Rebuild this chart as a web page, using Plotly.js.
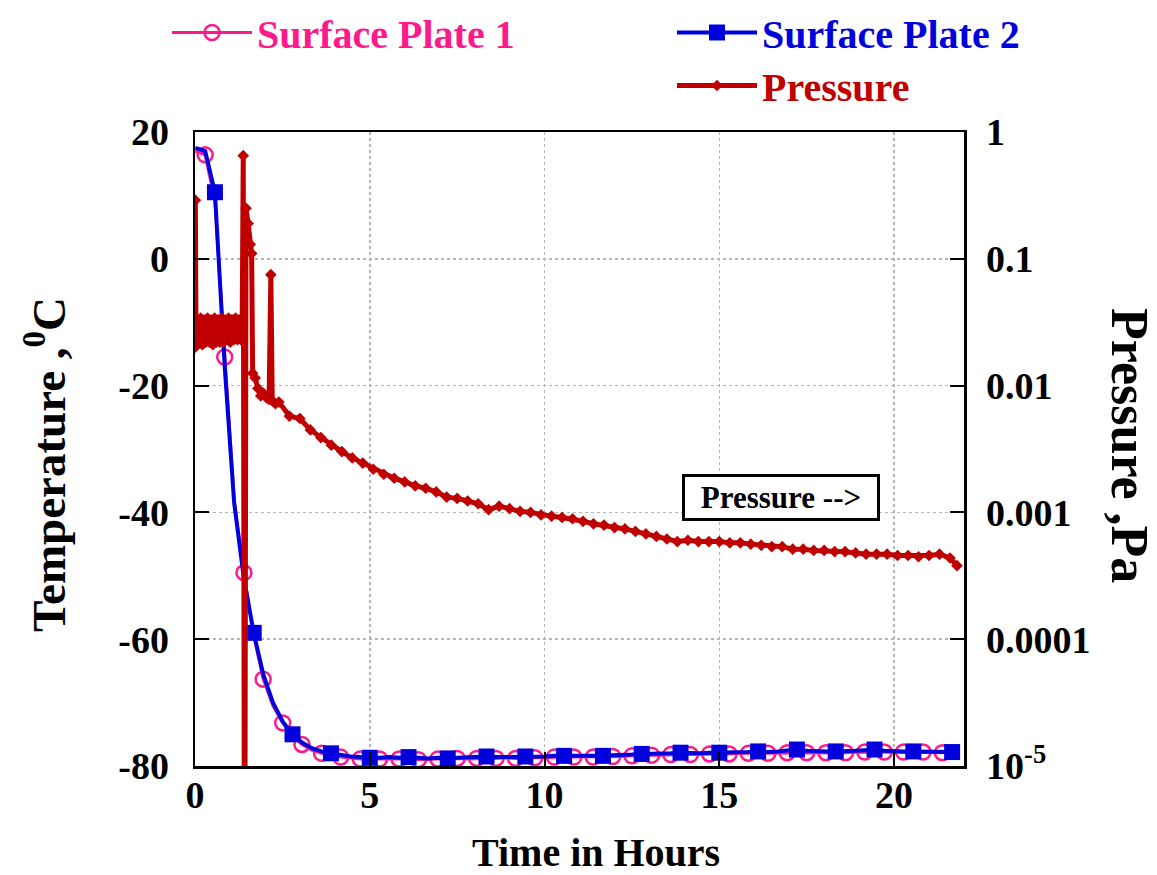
<!DOCTYPE html>
<html>
<head>
<meta charset="utf-8">
<script src="https://cdn.plot.ly/plotly-3.0.1.min.js"></script>
<style>html,body{margin:0;padding:0;background:#fff;}</style>
</head>
<body>
<div id="chart" style="width:1157px;height:875px;"></div>
<script>
// ---------- DATA ----------
const hours = [0.01,0.29,0.57,0.85,1.12,1.40,1.68,1.95,2.23,2.51,2.79,3.06,3.34,3.62,3.89,4.17,4.45,4.73,5.00,5.28,
  5.56,5.84,6.11,6.39,6.67,6.95,7.23,7.50,7.78,8.06,8.34,8.61,8.89,9.17,9.45,9.72,10.00,10.28,10.56,10.84,
  11.11,11.39,11.67,11.95,12.22,12.50,12.78,13.06,13.33,13.61,13.89,14.17,14.44,14.72,15.00,15.28,15.56,15.83,16.11,16.39,
  16.67,16.94,17.22,17.50,17.78,18.05,18.33,18.61,18.89,19.16,19.44,19.72,20.00,20.27,20.55,20.83,21.11,21.38,21.66];

const plate1Temp = [17.0,16.4,9.0,-15.5,-38.0,-49.5,-59.5,-66.3,-70.5,-73.2,-75.3,-76.6,-77.5,-78.0,-78.4,-78.6,-78.8,-78.9,-78.9,-78.9,
  -78.8,-78.9,-78.9,-79.0,-78.9,-78.9,-78.9,-78.8,-78.9,-78.8,-78.8,-78.8,-78.7,-78.8,-78.7,-78.7,-78.7,-78.6,-78.6,-78.6,
  -78.6,-78.6,-78.5,-78.5,-78.5,-78.4,-78.3,-78.3,-78.3,-78.2,-78.2,-78.2,-78.2,-78.1,-78.1,-78.1,-78.0,-78.0,-78.0,-78.0,
  -77.9,-77.9,-77.9,-77.9,-77.9,-77.9,-77.9,-77.9,-77.8,-77.8,-77.8,-77.8,-77.8,-77.8,-77.8,-77.8,-77.8,-77.9,-77.9];

const plate2Temp = [17.5,17.0,10.5,-17.0,-38.5,-50.5,-59.0,-65.5,-70.0,-73.0,-75.0,-76.3,-77.2,-77.7,-78.0,-78.3,-78.5,-78.6,-78.7,-78.7,
  -78.6,-78.7,-78.6,-78.7,-78.8,-78.7,-78.8,-78.7,-78.6,-78.6,-78.5,-78.6,-78.6,-78.5,-78.5,-78.6,-78.5,-78.4,-78.4,-78.5,
  -78.5,-78.4,-78.4,-78.3,-78.3,-78.2,-78.1,-78.1,-78.1,-78.0,-77.9,-78.0,-78.0,-77.9,-77.9,-77.9,-77.8,-77.8,-77.7,-77.8,
  -77.7,-77.6,-77.4,-77.6,-77.7,-77.7,-77.7,-77.7,-77.6,-77.5,-77.4,-77.6,-77.7,-77.7,-77.7,-77.7,-77.7,-77.8,-77.8];

const pressureHours = [0.00,0.01,0.03,0.06,0.11,0.16,0.21,0.26,0.31,0.36,0.41,0.46,0.51,0.56,0.61,0.66,0.71,0.76,0.81,0.86,
  0.91,0.96,1.01,1.06,1.11,1.16,1.21,1.26,1.31,1.35,1.38,1.42,1.46,1.52,1.58,1.62,1.65,1.72,1.80,1.88,
  1.96,2.05,2.12,2.17,2.21,2.30,2.40,2.70,3.00,3.30,3.60,3.90,4.20,4.50,4.80,5.10,5.40,5.70,6.00,6.30,
  6.60,6.90,7.20,7.50,7.80,8.10,8.40,8.70,9.00,9.30,9.60,9.90,10.20,10.50,10.80,11.10,11.40,11.70,12.00,12.30,
  12.60,12.90,13.20,13.50,13.80,14.10,14.40,14.70,15.00,15.30,15.60,15.90,16.20,16.50,16.80,17.10,17.40,17.70,18.00,18.30,
  18.60,18.90,19.20,19.50,19.80,20.10,20.40,20.70,21.00,21.30,21.60,21.80];

const pressurePa = [0.020,0.29,0.021,0.033,0.022,0.034,0.021,0.033,0.022,0.034,0.022,0.033,0.021,0.034,0.022,0.033,0.022,0.034,0.022,0.033,
  0.023,0.034,0.022,0.033,0.023,0.034,0.023,0.033,0.023,0.030,0.65,1e-7,0.25,0.19,0.13,0.11,0.0125,0.0115,0.0095,0.0083,
  0.0087,0.0080,0.0078,0.075,0.0076,0.0072,0.00741,0.00575,0.00550,0.00447,0.00389,0.00339,0.00302,0.00269,0.00245,0.00219,0.00200,0.00186,0.00174,0.00162,
  0.00155,0.00145,0.00132,0.00129,0.00123,0.00117,0.00105,0.00112,0.00107,0.00102,0.00100,0.000955,0.000933,0.000912,0.000891,0.000851,0.000813,0.000794,0.000759,0.000741,
  0.000708,0.000676,0.000646,0.000617,0.000589,0.000603,0.000589,0.000589,0.000589,0.000575,0.000575,0.000562,0.000550,0.000537,0.000537,0.000513,0.000513,0.000501,0.000501,0.000490,
  0.000490,0.000479,0.000468,0.000468,0.000468,0.000457,0.000457,0.000447,0.000457,0.000468,0.000437,0.000380];

const tempTicks = [-80,-60,-40,-20,0,20];
const tempTickText = ['-80','-60','-40','-20','0','20'];
const timeTicks = [0,5,10,15,20];
const pressureTickVals = [1e-5,1e-4,1e-3,1e-2,0.1,1];
const pressureTickText = ['10<sup>-5</sup>','0.0001','0.001','0.01','0.1','1'];

// ---------- STYLE ----------
const FONT = '"Liberation Serif", "Times New Roman", serif';
const PINK = '#FF1A8C', BLUE = '#0000DD', RED = '#C00000';

// marker subsets: Plate 1 every 2nd sample (odd indices), Plate 2 every 4th sample from index 2
const p1Sel = hours.map((_, i) => i).filter(i => i % 2 === 1);
const p2Sel = hours.map((_, i) => i).filter(i => i >= 2 && (i - 2) % 4 === 0);

const traces = [
  {
    x: hours, y: plate1Temp, name: 'Surface Plate 1', type: 'scatter', mode: 'lines+markers',
    line: {color: PINK, width: 3},
    marker: {symbol: 'circle-open', size: 15, color: PINK, line: {width: 2.5, color: PINK}},
    selectedpoints: p1Sel, selected: {marker: {opacity: 1}}, unselected: {marker: {opacity: 0}},
    legend: 'legend', xaxis: 'x', yaxis: 'y', hoverinfo: 'x+y'
  },
  {
    x: hours, y: plate2Temp, name: 'Surface Plate 2', type: 'scatter', mode: 'lines+markers',
    line: {color: BLUE, width: 4},
    marker: {symbol: 'square', size: 16, color: BLUE},
    selectedpoints: p2Sel, selected: {marker: {opacity: 1}}, unselected: {marker: {opacity: 0}},
    legend: 'legend2', xaxis: 'x', yaxis: 'y', hoverinfo: 'x+y'
  },
  {
    x: pressureHours, y: pressurePa, name: 'Pressure', type: 'scatter', mode: 'lines+markers',
    line: {color: RED, width: 5},
    marker: {symbol: 'diamond', size: 9, color: RED},
    legend: 'legend3', xaxis: 'x', yaxis: 'y2', hoverinfo: 'x+y'
  }
];

const px2x = p => (p - 195) / 769;
const px2y = p => (766 - p) / 634;
const cx = p => p / 1157;
const cy = p => 1 - p / 875;

const legendBase = {
  xref: 'container', yref: 'container',
  xanchor: 'left', yanchor: 'top', bgcolor: 'rgba(0,0,0,0)', borderwidth: 0,
  orientation: 'v', itemclick: false, itemdoubleclick: false, itemwidth: 80
};

const layout = {
  width: 1157, height: 875,
  margin: {l: 195, r: 193, t: 132, b: 109, pad: 0, autoexpand: false},
  paper_bgcolor: '#ffffff', plot_bgcolor: '#ffffff',
  font: {family: FONT, color: '#000000', weight: 'bold'},
  showlegend: true,
  xaxis: {
    range: [0, 22], tickvals: timeTicks, ticks: 'inside', ticklen: 14, tickwidth: 2, tickcolor: '#000',
    showline: true, linewidth: 2.5, linecolor: '#000', mirror: true, automargin: false, tickangle: 0,
    showgrid: true, gridcolor: '#b5b5b5', gridwidth: 1.5, griddash: 'dot', zeroline: false,
    tickfont: {family: FONT, size: 38, weight: 'bold', color: '#000'}, ticklabelstandoff: -6
  },
  yaxis: {
    range: [-80, 20], tickvals: tempTicks, ticktext: tempTickText, ticks: 'inside', ticklen: 14, tickwidth: 2, tickcolor: '#000',
    showline: true, linewidth: 2.5, linecolor: '#000', automargin: false,
    showgrid: true, gridcolor: '#b5b5b5', gridwidth: 1.5, griddash: 'dot', zeroline: false,
    tickfont: {family: FONT, size: 38, weight: 'bold', color: '#000'}, ticklabelstandoff: 16
  },
  yaxis2: {
    type: 'log', range: [-5, 0], overlaying: 'y', side: 'right', automargin: false,
    tickvals: pressureTickVals, ticktext: pressureTickText,
    ticks: 'inside', ticklen: 14, tickwidth: 2, tickcolor: '#000',
    showline: true, linewidth: 2.5, linecolor: '#000', showgrid: false, zeroline: false,
    tickfont: {family: FONT, size: 38, weight: 'bold', color: '#000'}, ticklabelstandoff: 12
  },
  legend: Object.assign({}, legendBase, {x: cx(167), y: cy(-11),
    font: {family: FONT, size: 40, weight: 'bold', color: PINK}}),
  legend2: Object.assign({}, legendBase, {x: cx(672), y: cy(-11),
    font: {family: FONT, size: 40, weight: 'bold', color: BLUE}}),
  legend3: Object.assign({}, legendBase, {x: cx(672), y: cy(53),
    font: {family: FONT, size: 40, weight: 'bold', color: RED}}),
  annotations: [
    {xref: 'paper', yref: 'paper', x: px2x(45), y: px2y(465), text: 'Temperature ,<sup>0</sup>C',
     textangle: -90, showarrow: false, xanchor: 'center', yanchor: 'middle',
     font: {family: FONT, size: 47, weight: 'bold', color: '#000'}},
    {xref: 'paper', yref: 'paper', x: px2x(1130), y: px2y(445), text: 'Pressure ,Pa',
     textangle: 90, showarrow: false, xanchor: 'center', yanchor: 'middle',
     font: {family: FONT, size: 52, weight: 'bold', color: '#000'}},
    {xref: 'paper', yref: 'paper', x: px2x(596), y: px2y(852), text: 'Time in Hours',
     showarrow: false, xanchor: 'center', yanchor: 'middle',
     font: {family: FONT, size: 40, weight: 'bold', color: '#000'}},
    {xref: 'paper', yref: 'paper', x: px2x(781), y: px2y(497), text: 'Pressure -->',
     showarrow: false, xanchor: 'center', yanchor: 'middle',
     bgcolor: '#ffffff', bordercolor: '#000', borderwidth: 3, borderpad: 4, width: 184, height: 33,
     font: {family: FONT, size: 31, weight: 'bold', color: '#000'}}
  ]
};

Plotly.newPlot('chart', traces, layout, {displayModeBar: false, staticPlot: true});
</script>
</body>
</html>
